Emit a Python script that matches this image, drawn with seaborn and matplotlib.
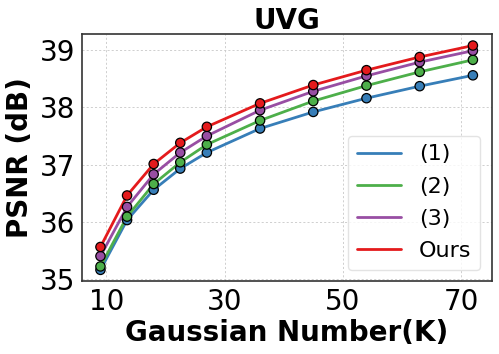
import numpy as np
import pandas as pd
import matplotlib
matplotlib.use("Agg")
import matplotlib.pyplot as plt
import seaborn as sns

# Gaussian number (K)
gauss_k = [9, 13.5, 18, 22.5, 27, 36, 45, 54, 63, 72]

# PSNR (dB) per method
psnr_1 = [35.16, 36.03, 36.56, 36.93, 37.21, 37.63, 37.92, 38.16, 38.37, 38.56]
psnr_2 = [35.22, 36.09, 36.66, 37.04, 37.35, 37.77, 38.11, 38.38, 38.62, 38.83]
psnr_3 = [35.40, 36.26, 36.83, 37.21, 37.50, 37.95, 38.28, 38.55, 38.79, 38.99]
psnr_ours = [35.56, 36.46, 37.01, 37.38, 37.66, 38.07, 38.39, 38.65, 38.88, 39.08]

methods = ["(1)", "(2)", "(3)", "Ours"]
colors = ["#377eb8", "#4daf4a", "#984ea3", "#e41a1c"]

df = pd.DataFrame({
    "K": gauss_k * 4,
    "PSNR": psnr_1 + psnr_2 + psnr_3 + psnr_ours,
    "method": np.repeat(methods, len(gauss_k)),
})

sns.set_style("whitegrid", rc={"text.color": "black", "axes.labelcolor": "black",
                               "xtick.color": "black", "ytick.color": "black"})
plt.rcParams["font.family"] = ["DejaVu Sans"]

fig, ax = plt.subplots(figsize=(4.99, 3.54), dpi=100)
fig.subplots_adjust(left=0.164, right=0.985, bottom=0.206, top=0.903)

sns.lineplot(data=df, x="K", y="PSNR", hue="method", hue_order=methods,
             palette=colors, linewidth=2, ax=ax)
sns.scatterplot(data=df, x="K", y="PSNR", hue="method", hue_order=methods,
                palette=colors, s=45, edgecolor="black", linewidth=0.9,
                legend=False, zorder=3, ax=ax)

ax.set_title("UVG", fontsize=20, fontweight="bold", pad=4)
ax.set_xlabel("Gaussian Number(K)", fontsize=20, fontweight="bold", labelpad=2)
ax.set_ylabel("PSNR (dB)", fontsize=20, fontweight="bold", labelpad=4)
ax.set_xticks([10, 30, 50, 70])
ax.set_yticks([35, 36, 37, 38, 39])
ax.tick_params(axis="both", labelsize=20, length=3, width=0.8,
               color="#333333", labelcolor="black", pad=2)
ax.grid(True, linestyle=(0, (2.5, 2.5)), linewidth=0.6, color="#c8c8c8")

for sp in ax.spines.values():
    sp.set_edgecolor("#333333")
    sp.set_linewidth(1.2)

leg = ax.legend(loc="lower right", fontsize=16, title=None, frameon=True,
                labelspacing=0.55)
leg.get_frame().set_edgecolor("#dddddd")
for line in leg.get_lines():
    line.set_linewidth(2)
for t in leg.get_texts():
    t.set_color("black")

fig.savefig("out.png", dpi=100)
